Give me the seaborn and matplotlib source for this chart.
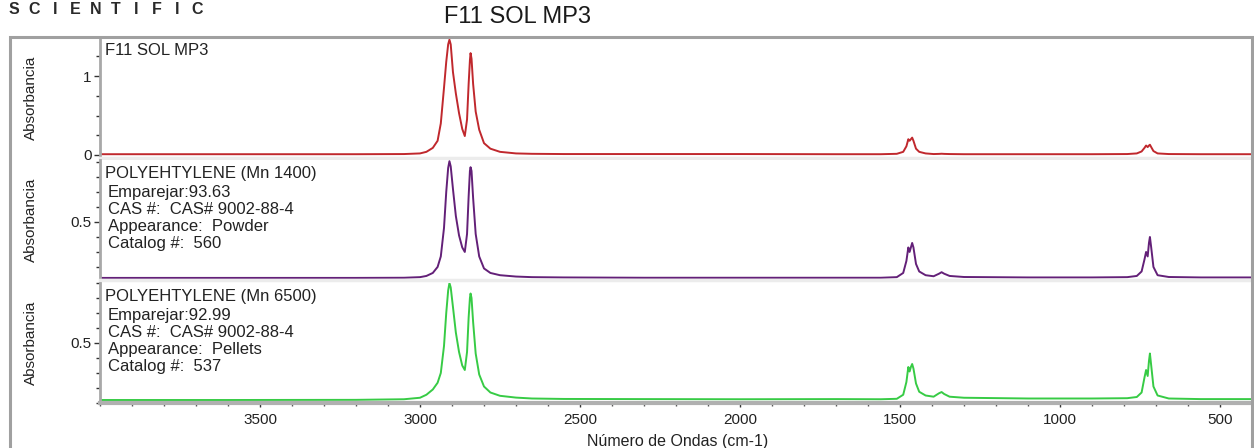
import pandas as pd
import seaborn as sns
import matplotlib.pyplot as plt
from matplotlib.patches import Rectangle
from matplotlib.ticker import MultipleLocator

# Spectra (wavenumber in cm-1, absorbance)
wavenumber = [4000, 3600, 3200, 3050, 3000, 2980, 2960, 2945, 2935, 2925,
              2918, 2912, 2908, 2904, 2897, 2888, 2878, 2868, 2860, 2853,
              2848, 2844, 2842, 2839, 2834, 2826, 2815, 2800, 2780, 2750,
              2700, 2650, 2550, 2300, 2000, 1700, 1560, 1510, 1490, 1480,
              1474, 1470, 1466, 1462, 1458, 1450, 1440, 1420, 1395, 1378,
              1370, 1362, 1345, 1300, 1100, 900, 790, 760, 745, 736,
              731, 726, 722, 719, 715, 708, 695, 660, 560, 400]

sample_abs = [0.01, 0.01, 0.01, 0.012, 0.02, 0.04, 0.09, 0.18, 0.40, 0.85,
              1.18, 1.40, 1.46, 1.40, 1.05, 0.78, 0.53, 0.33, 0.24, 0.45,
              0.90, 1.20, 1.29, 1.22, 0.90, 0.55, 0.32, 0.15, 0.08, 0.04,
              0.02, 0.015, 0.012, 0.012, 0.012, 0.010, 0.010, 0.015, 0.04, 0.11,
              0.20, 0.18, 0.20, 0.22, 0.18, 0.08, 0.04, 0.02, 0.012, 0.014,
              0.016, 0.014, 0.012, 0.01, 0.01, 0.01, 0.012, 0.02, 0.045, 0.09,
              0.12, 0.10, 0.12, 0.13, 0.10, 0.05, 0.02, 0.012, 0.01, 0.01]

pe1400_abs = [0.127, 0.127, 0.127, 0.128, 0.132, 0.140, 0.160, 0.20, 0.27, 0.46,
              0.70, 0.86, 0.905, 0.87, 0.72, 0.54, 0.41, 0.33, 0.30, 0.42,
              0.67, 0.84, 0.865, 0.84, 0.66, 0.42, 0.27, 0.19, 0.16, 0.145,
              0.136, 0.132, 0.130, 0.128, 0.128, 0.128, 0.128, 0.132, 0.16, 0.24,
              0.33, 0.30, 0.33, 0.36, 0.33, 0.22, 0.17, 0.145, 0.138, 0.155,
              0.165, 0.155, 0.14, 0.133, 0.13, 0.13, 0.132, 0.14, 0.17, 0.25,
              0.30, 0.27, 0.36, 0.40, 0.33, 0.20, 0.145, 0.133, 0.13, 0.13]

pe6500_abs = [0.120, 0.120, 0.121, 0.125, 0.135, 0.155, 0.19, 0.235, 0.30, 0.48,
              0.70, 0.85, 0.90, 0.87, 0.74, 0.57, 0.44, 0.35, 0.32, 0.44,
              0.67, 0.80, 0.83, 0.80, 0.64, 0.43, 0.29, 0.21, 0.17, 0.148,
              0.136, 0.130, 0.127, 0.126, 0.125, 0.126, 0.125, 0.128, 0.155, 0.24,
              0.34, 0.31, 0.34, 0.36, 0.33, 0.23, 0.175, 0.15, 0.142, 0.165,
              0.173, 0.16, 0.142, 0.135, 0.13, 0.13, 0.132, 0.14, 0.17, 0.27,
              0.32, 0.28, 0.38, 0.43, 0.35, 0.21, 0.15, 0.13, 0.126, 0.126]

panel_names = ['F11 SOL MP3', 'POLYEHTYLENE (Mn 1400)', 'POLYEHTYLENE (Mn 6500)']
match_info = [
    [],
    ['Emparejar:93.63', 'CAS #:  CAS# 9002-88-4', 'Appearance:  Powder', 'Catalog #:  560'],
    ['Emparejar:92.99', 'CAS #:  CAS# 9002-88-4', 'Appearance:  Pellets', 'Catalog #:  537'],
]
line_colors = ['#c0282d', '#632078', '#37cb45']
y_limits = [(-0.038, 1.494), (0.113, 0.913), (0.10, 0.90)]

sns.set_theme(style='white')
plt.rcParams['font.family'] = ['Liberation Sans', 'DejaVu Sans']

W, H = 1254, 448
fig = plt.figure(figsize=(W / 100, H / 100), dpi=100)

# outer frame of the report
fig.add_artist(Rectangle((10 / W, -0.02), 1242 / W, 1 - 37 / H + 0.02,
                         transform=fig.transFigure, fill=False,
                         edgecolor='#a0a0a0', lw=2.2))

# spaced-out logo word
for k, letter in enumerate('SCIENTIFIC'):
    fig.text((14 + k * 20.4) / W, 1 - 10 / H, letter, fontsize=11.5,
             fontweight='bold', color='#2a2a2a', va='center', ha='center')
fig.text(518 / W, 1 - 17 / H, 'F11 SOL MP3', fontsize=17, color='#1a1a1a',
         va='center', ha='center')

panel_boxes = [(37, 158), (160, 280), (283, 403)]
series = [sample_abs, pe1400_abs, pe6500_abs]
axes = []
for i, (top, bottom) in enumerate(panel_boxes):
    ax = fig.add_axes([100 / W, 1 - bottom / H, 1152 / W, (bottom - top) / H])
    df = pd.DataFrame({'wavenumber': wavenumber, 'absorbance': series[i]})
    sns.lineplot(data=df, x='wavenumber', y='absorbance', sort=False, ax=ax,
                 color=line_colors[i], lw=1.4)
    ax.set_xlim(4000, 400)
    ax.set_ylim(*y_limits[i])
    ax.set_ylabel('Absorbancia', fontsize=11, color='#222222')
    ax.yaxis.set_label_coords(-0.054, 0.5)
    ax.set_xlabel('')

    ax.spines['right'].set_visible(False)
    ax.spines['top'].set_visible(False)
    ax.spines['left'].set_color('#a8a8a8')
    ax.spines['left'].set_linewidth(2)
    if i < 2:
        ax.spines['bottom'].set_color('#ececec')
        ax.spines['bottom'].set_linewidth(2.5)
        ax.tick_params(axis='x', bottom=False, labelbottom=False)
    else:
        ax.spines['bottom'].set_color('#b0b0b0')
        ax.spines['bottom'].set_linewidth(3)

    if i == 0:
        ax.set_yticks([0, 1])
        ax.set_yticklabels(['0', '1'])
        ax.yaxis.set_minor_locator(MultipleLocator(0.25))
    else:
        ax.set_yticks([0.5])
        ax.set_yticklabels(['0.5'])
        ax.yaxis.set_minor_locator(MultipleLocator(0.1))
    ax.tick_params(axis='y', which='major', left=True, length=4, width=1,
                   color='#333333', labelsize=11, labelcolor='#222222', pad=2)
    ax.tick_params(axis='y', which='minor', left=True, length=3, width=1,
                   color='#333333')

    ax.text(0.004, 0.89, panel_names[i], transform=ax.transAxes, fontsize=12,
            color='#222222', va='center', ha='left')
    for k, line in enumerate(match_info[i]):
        ax.text(0.007, 0.73 - k * 0.142, line, transform=ax.transAxes, fontsize=12,
                color='#222222', va='center', ha='left')
    axes.append(ax)

ax3 = axes[-1]
ax3.set_xticks([3500, 3000, 2500, 2000, 1500, 1000, 500])
ax3.xaxis.set_minor_locator(MultipleLocator(100))
ax3.tick_params(axis='x', which='major', bottom=True, length=3, width=1,
                color='#333333', labelsize=11, labelcolor='#222222', pad=4)
ax3.tick_params(axis='x', which='minor', bottom=True, length=2, width=1,
                color='#555555')
ax3.set_xlabel('Número de Ondas (cm-1)', fontsize=11.5, color='#222222')
ax3.xaxis.set_label_coords(0.501, -0.26)

fig.savefig('out.png', dpi=100)
